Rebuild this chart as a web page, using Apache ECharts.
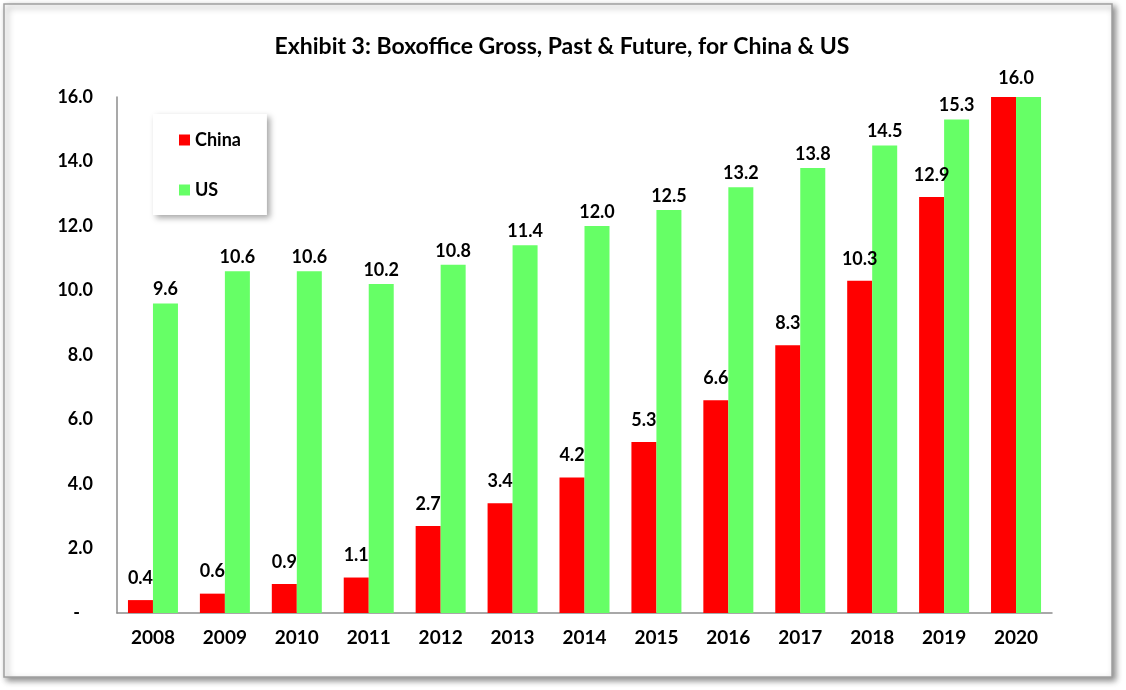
<!DOCTYPE html>
<html>
<head>
<meta charset="utf-8">
<script src="https://cdn.jsdelivr.net/npm/echarts@6/dist/echarts.min.js"></script>
<style>
  html, body { margin: 0; padding: 0; background: #fff; }
  #main { width: 1126px; height: 690px; }
</style>
</head>
<body>
<div id="main"></div>
<script>
// values
var years = ['2008', '2009', '2010', '2011', '2012', '2013', '2014', '2015', '2016', '2017', '2018', '2019', '2020'];
var china = [0.4, 0.6, 0.9, 1.1, 2.7, 3.4, 4.2, 5.3, 6.6, 8.3, 10.3, 12.9, 16.0];
var us = [9.6, 10.6, 10.6, 10.2, 10.8, 11.4, 12.0, 12.5, 13.2, 13.8, 14.5, 15.3, 16.0];

var font = 'Lato';
var last = years.length - 1;

// 2020 carries a single label centred over both bars
var chinaData = china.map(function (v, i) {
    if (i !== last) return v;
    return { value: v, label: { offset: [12.5, 3] } };
});
var usData = us.map(function (v, i) {
    if (i !== last) return v;
    return { value: v, label: { show: false } };
});

var labelStyle = {
    show: true,
    position: 'top',
    color: '#000',
    fontFamily: font,
    fontWeight: 'bold',
    fontSize: 18,
    formatter: function (p) { return p.value.toFixed(1); }
};

var myChart = echarts.init(document.getElementById('main'));
var option = {
    animation: false,
    backgroundColor: '#fff',
    graphic: [{
        type: 'rect',
        z: -10,
        shape: { x: 4, y: 4, width: 1108, height: 673 },
        style: {
            fill: '#fff',
            stroke: '#a0a0a0',
            lineWidth: 1.5,
            shadowColor: 'rgba(0,0,0,0.45)',
            shadowBlur: 6,
            shadowOffsetX: 3,
            shadowOffsetY: 3
        }
    }],
    title: {
        text: 'Exhibit 3: Boxoffice Gross, Past & Future, for China & US',
        left: 557,
        textAlign: 'center',
        top: 30,
        textStyle: { fontFamily: font, fontWeight: 'bold', fontSize: 23, color: '#000' }
    },
    legend: {
        orient: 'vertical',
        left: 153,
        top: 114,
        padding: [17, 26, 16, 26],
        itemGap: 32,
        itemWidth: 11,
        itemHeight: 11,
        icon: 'rect',
        backgroundColor: '#fff',
        shadowColor: 'rgba(0,0,0,0.35)',
        shadowBlur: 6,
        shadowOffsetX: 3,
        shadowOffsetY: 3,
        textStyle: { fontFamily: font, fontWeight: 'bold', fontSize: 18, color: '#000', lineHeight: 18 },
        data: ['China', 'US']
    },
    grid: { left: 117, right: 74, top: 97, bottom: 77, containLabel: false },
    xAxis: {
        type: 'category',
        data: years,
        axisLine: { lineStyle: { color: '#8c8c8c', width: 1.5 } },
        axisTick: { show: false },
        axisLabel: { margin: 15, color: '#000', fontFamily: font, fontWeight: 'bold', fontSize: 19 }
    },
    yAxis: {
        type: 'value',
        min: 0,
        max: 16,
        interval: 2,
        splitLine: { show: false },
        axisLine: { show: true, lineStyle: { color: '#8c8c8c', width: 1.5 } },
        axisTick: { show: false },
        axisLabel: {
            margin: 24,
            padding: [6, 0, 0, 0],
            color: '#000',
            fontFamily: font,
            fontWeight: 'bold',
            fontSize: 18,
            formatter: function (v) { return v === 0 ? '-   ' : v.toFixed(1); }
        }
    },
    series: [
        {
            name: 'China',
            type: 'bar',
            barWidth: 25,
            barGap: '0%',
            itemStyle: { color: '#ff0000' },
            label: Object.assign({}, labelStyle, { distance: 13 }),
            data: chinaData
        },
        {
            name: 'US',
            type: 'bar',
            barWidth: 25,
            barGap: '0%',
            itemStyle: { color: '#66ff66' },
            label: Object.assign({}, labelStyle, { distance: 5 }),
            data: usData
        }
    ]
};
myChart.setOption(option);
</script>
</body>
</html>
